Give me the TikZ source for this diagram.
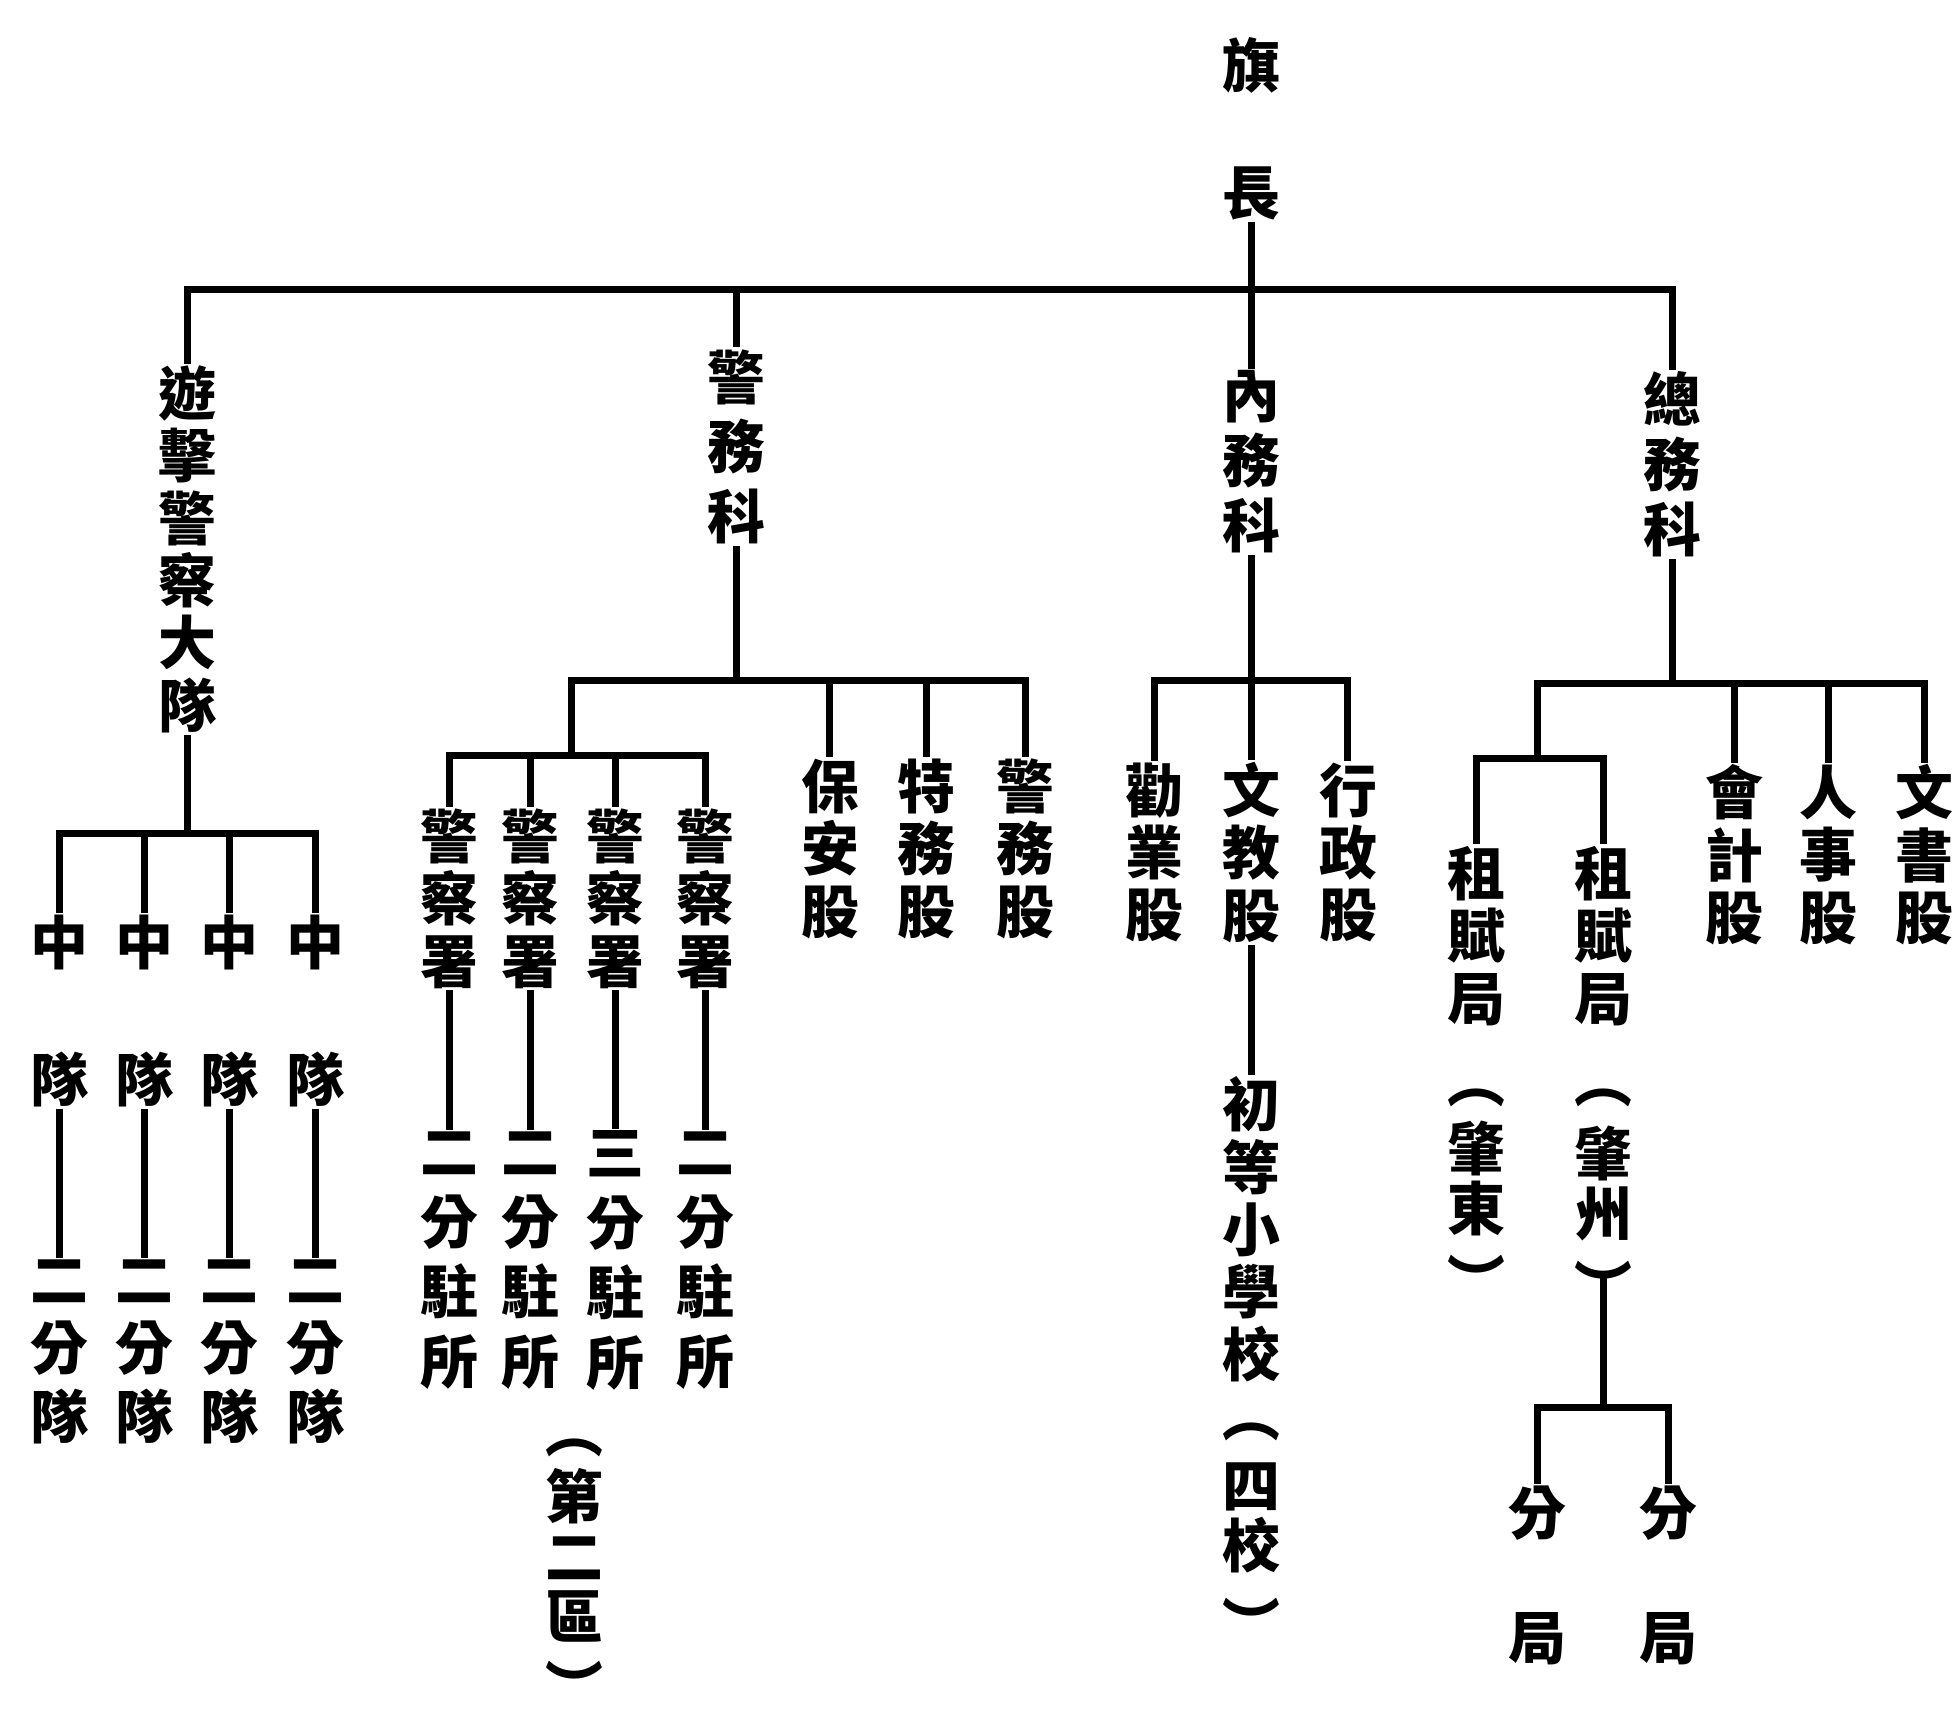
\documentclass[tikz,border=0pt]{standalone}
\usepackage{fontspec}
\newfontfamily\cjk{Noto Sans CJK TC}
\begin{document}
\begin{tikzpicture}[x=0.05cm,y=-0.05cm,
  vt/.style={font=\cjk\bfseries\fontsize{66pt}{#1}\selectfont, align=center, inner xsep=0pt, inner ysep=6pt},
  vt/.default=2.5cm,
  bar/.style={line width=8pt, line cap=rect}]
\fill[white] (0,0) rectangle (1568,1373);
\useasboundingbox (0,0) rectangle (1568,1373);
\clip (0,0) rectangle (1568,1373);

% top
\node[vt] (qi) at (1003,52) {旗};
\node[vt] (zhang) at (1003,155) {長};
\coordinate (b0) at (0,232);

\node[vt=2.5cm] (youji) at (150,440) {遊\\擊\\警\\察\\大\\隊};
\node[vt=2.8cm] (jingwu) at (590,358) {警\\務\\科};
\node[vt=2.6cm] (neiwu) at (1003,370) {內\\務\\科};
\node[vt=2.6cm] (zongwu) at (1340,372) {總\\務\\科};

\draw[bar] (zhang) -- (zhang |- b0);
\draw[bar] (youji.north |- b0) -- (zongwu.north |- b0);
\foreach \n in {youji,jingwu,neiwu,zongwu} \draw[bar] (\n.north |- b0) -- (\n.north);

% column A
\coordinate (bA) at (0,668);
\draw[bar] (youji.south) -- (youji.south |- bA);
\foreach \i/\x in {1/48,2/116,3/184,4/253} {
  \node[vt] (zh\i) at (\x,755) {中};
  \node[vt] (dui\i) at (\x,865) {隊};
  \node[vt=2.75cm] (fd\i) at (\x,1083) {二\\分\\隊};
  \draw[bar] (zh\i.north |- bA) -- (zh\i.north);
  \draw[bar] (dui\i) -- (fd\i);
}
\draw[bar] (zh1.north |- bA) -- (zh4.north |- bA);

% column B
\coordinate (bB) at (0,545);
\coordinate (bB2) at (0,605);
\coordinate (jB) at (458,605);
\draw[bar] (jingwu.south) -- (jingwu.south |- bB);
\node[vt] (baoan) at (665,680) {保\\安\\股};
\node[vt] (tewu) at (742,680) {特\\務\\股};
\node[vt] (jingwugu) at (822,680) {警\\務\\股};
\draw[bar] (jB |- bB) -- (jingwugu.north |- bB);
\draw[bar] (jB |- bB) -- (jB);
\foreach \n in {baoan,tewu,jingwugu} \draw[bar] (\n.north |- bB) -- (\n.north);
\foreach \i/\x/\m in {1/360/二,2/425/二,3/493/三,4/565/二} {
  \node[vt] (js\i) at (\x,720) {警\\察\\署};
  \node[vt=2.8cm] (fz\i) at (\x,1010) {\m\\分\\駐\\所};
  \draw[bar] (js\i.north |- bB2) -- (js\i.north);
  \draw[bar] (js\i) -- (fz\i);
}
\draw[bar] (js1.north |- bB2) -- (js4.north |- bB2);
\node[vt] (diqL) at (460,1160) {︵};
\node[vt=2.4cm] (diqu) at (460,1246) {第\\二\\區};
\node[vt] (diqR) at (460,1350) {︶};

% column C
\coordinate (bC) at (0,545);
\draw[bar] (neiwu.south) -- (neiwu.south |- bC);
\node[vt] (quanye) at (925,683) {勸\\業\\股};
\node[vt] (wenjiao) at (1003,683) {文\\教\\股};
\node[vt] (xingzheng) at (1080,683) {行\\政\\股};
\draw[bar] (quanye.north |- bC) -- (xingzheng.north |- bC);
\foreach \n in {quanye,wenjiao,xingzheng} \draw[bar] (\n.north |- bC) -- (\n.north);
\node[vt] (xiaoxue) at (1003,985) {初\\等\\小\\學\\校};
\draw[bar] (wenjiao) -- (xiaoxue);
\node[vt] (sixL) at (1003,1147) {︵};
\node[vt=2.4cm] (sixiao) at (1003,1216) {四\\校};
\node[vt] (sixR) at (1003,1300) {︶};

% column D
\coordinate (bD) at (0,548);
\coordinate (bD2) at (0,608);
\coordinate (jD) at (1232,608);
\coordinate (bD3) at (0,1128);
\draw[bar] (zongwu.south) -- (zongwu.south |- bD);
\node[vt] (kuaiji) at (1390,685) {會\\計\\股};
\node[vt] (renshi) at (1465,685) {人\\事\\股};
\node[vt] (wenshu) at (1542,685) {文\\書\\股};
\draw[bar] (jD |- bD) -- (wenshu.north |- bD);
\draw[bar] (jD |- bD) -- (jD);
\foreach \n in {kuaiji,renshi,wenshu} \draw[bar] (\n.north |- bD) -- (\n.north);
\node[vt] (zf1) at (1183,750) {租\\賦\\局};
\node[vt] (zf2) at (1285,750) {租\\賦\\局};
\draw[bar] (zf1.north |- bD2) -- (zf2.north |- bD2);
\foreach \n in {zf1,zf2} \draw[bar] (\n.north |- bD2) -- (\n.north);
\node[vt] (zdL) at (1183,880) {︵};
\node[vt=2.4cm] (zd) at (1183,944) {肇\\東};
\node[vt] (zdR) at (1183,1025) {︶};
\node[vt] (zzL) at (1285,880) {︵};
\node[vt=2.4cm] (zz) at (1285,948) {肇\\州};
\node[vt] (zzR) at (1285,1030) {︶};
\node[vt=5cm] (fj1) at (1232,1262) {分\\局};
\node[vt=5cm] (fj2) at (1337,1262) {分\\局};
\draw[bar] ([yshift=0.35cm]zzR.center) -- (zzR.center |- bD3);
\draw[bar] (fj1.north |- bD3) -- (fj2.north |- bD3);
\foreach \n in {fj1,fj2} \draw[bar] (\n.north |- bD3) -- (\n.north);
\end{tikzpicture}
\end{document}
